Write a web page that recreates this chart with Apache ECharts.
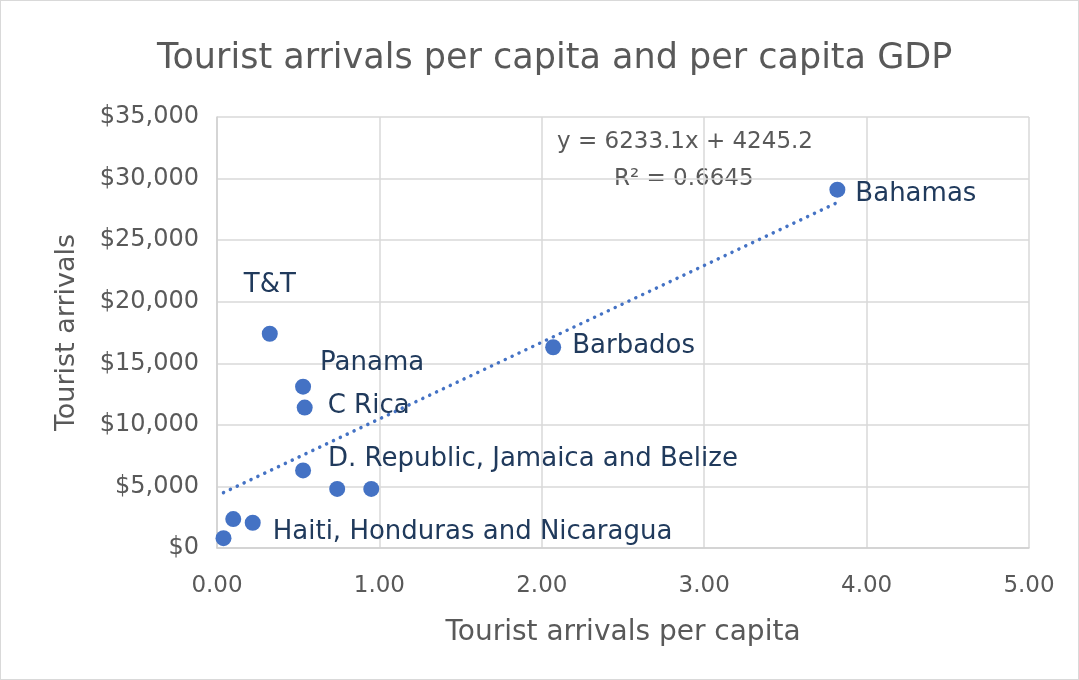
<!DOCTYPE html>
<html>
<head>
<meta charset="utf-8">
<script src="https://cdn.jsdelivr.net/npm/echarts@6/dist/echarts.min.js"></script>
<style>
  html, body { margin: 0; padding: 0; background: #fff; }
  #chart { width: 1077px; height: 678px; border: 1px solid #d9d9d9; }
</style>
</head>
<body>
<div id="chart"></div>
<script>
// data
const countries = ['T&T', 'Panama', 'C Rica', 'D. Republic', 'Jamaica', 'Belize',
  'Barbados', 'Bahamas', 'Honduras', 'Haiti group', 'Nicaragua'];
const arrivalsPerCapita = [0.325, 0.53, 0.54, 0.53, 0.74, 0.95, 2.07, 3.82, 0.10, 0.22, 0.04];
const gdpPerCapita = [17400, 13100, 11400, 6300, 4800, 4800, 16300, 29100, 2350, 2050, 800];
const pointLabels = ['T&T', 'Panama', 'C Rica', 'D. Republic, Jamaica and Belize', '', '',
  'Barbados', 'Bahamas', '', 'Haiti, Honduras and Nicaragua', ''];
const xTicks = [0, 1, 2, 3, 4, 5];
const yTicks = [0, 5000, 10000, 15000, 20000, 25000, 30000, 35000];
// trendline from the chart's equation
const trendSlope = 6233.1;
const trendIntercept = 4245.2;
const trendRange = [0.04, 3.82];
const trendText = ['y = 6233.1x + 4245.2', 'R² = 0.6645'];

const font = 'DejaVu Sans';
const blue = '#4472C4';
const grey = '#595959';

// where each label sits round its point
const labelStyle = {
  'T&T': { position: 'top', offset: [0, -22] },
  'Panama': { position: 'right', offset: [4, -23] },
  'C Rica': { position: 'right', offset: [10, -1] },
  'D. Republic, Jamaica and Belize': { position: 'right', offset: [12, -11] },
  'Barbados': { position: 'right', offset: [6, -1] },
  'Bahamas': { position: 'right', offset: [5, 5] },
  'Haiti, Honduras and Nicaragua': { position: 'right', offset: [7, 9] },
};

const points = arrivalsPerCapita.map((x, i) => {
  const text = pointLabels[i];
  const item = { name: countries[i], value: [x, gdpPerCapita[i]] };
  if (text) {
    item.label = {
      show: true,
      formatter: text,
      ...labelStyle[text],
    };
  }
  return item;
});

const trendData = trendRange.map((x) => [x, trendSlope * x + trendIntercept]);

const chart = echarts.init(document.getElementById('chart'));
chart.setOption({
  animation: false,
  textStyle: { fontFamily: font },
  title: {
    text: 'Tourist arrivals per capita and per capita GDP',
    left: 151,
    top: 35,
    textStyle: { fontFamily: font, fontSize: 35, fontWeight: 'normal', color: grey },
  },
  grid: { left: 216, right: 49, top: 116, bottom: 131 },
  xAxis: {
    type: 'value',
    min: xTicks[0],
    max: xTicks[xTicks.length - 1],
    interval: 1,
    name: 'Tourist arrivals per capita',
    nameLocation: 'middle',
    nameGap: 71,
    nameTextStyle: { fontSize: 28, color: grey },
    axisLabel: { fontSize: 23, color: grey, margin: 27, formatter: (v) => v.toFixed(2) },
    axisLine: { show: true, lineStyle: { color: '#d0d0d0', width: 1.5 } },
    axisTick: { show: false },
    splitLine: { lineStyle: { color: '#d9d9d9', width: 1.5 } },
  },
  yAxis: {
    type: 'value',
    min: yTicks[0],
    max: yTicks[yTicks.length - 1],
    interval: 5000,
    name: 'Tourist arrivals',
    nameLocation: 'middle',
    nameGap: 137,
    nameRotate: 90,
    nameTextStyle: { fontSize: 27, color: grey },
    axisLabel: {
      fontSize: 24, color: grey, margin: 18,
      formatter: (v) => '$' + v.toLocaleString('en-US'),
    },
    axisLine: { show: true, lineStyle: { color: '#d0d0d0', width: 1.5 } },
    axisTick: { show: false },
    splitLine: { lineStyle: { color: '#d9d9d9', width: 1.5 } },
  },
  series: [
    {
      type: 'line',
      data: trendData,
      symbol: 'none',
      silent: true,
      lineStyle: { color: blue, width: 3.5, type: [0.1, 7.5], cap: 'round' },
      z: 1,
    },
    {
      type: 'scatter',
      data: points,
      symbolSize: 16,
      itemStyle: { color: blue, opacity: 1 },
      label: { show: false, fontSize: 26, color: '#203A5C', fontFamily: font },
      z: 2,
    },
  ],
  graphic: [
    {
      type: 'text',
      left: 556,
      top: 130,
      style: { text: trendText[0], fontSize: 23, fill: grey, fontFamily: font },
    },
    {
      type: 'text',
      left: 613,
      top: 167,
      style: { text: trendText[1], fontSize: 23, fill: grey, fontFamily: font },
    },
  ],
});
</script>
</body>
</html>
